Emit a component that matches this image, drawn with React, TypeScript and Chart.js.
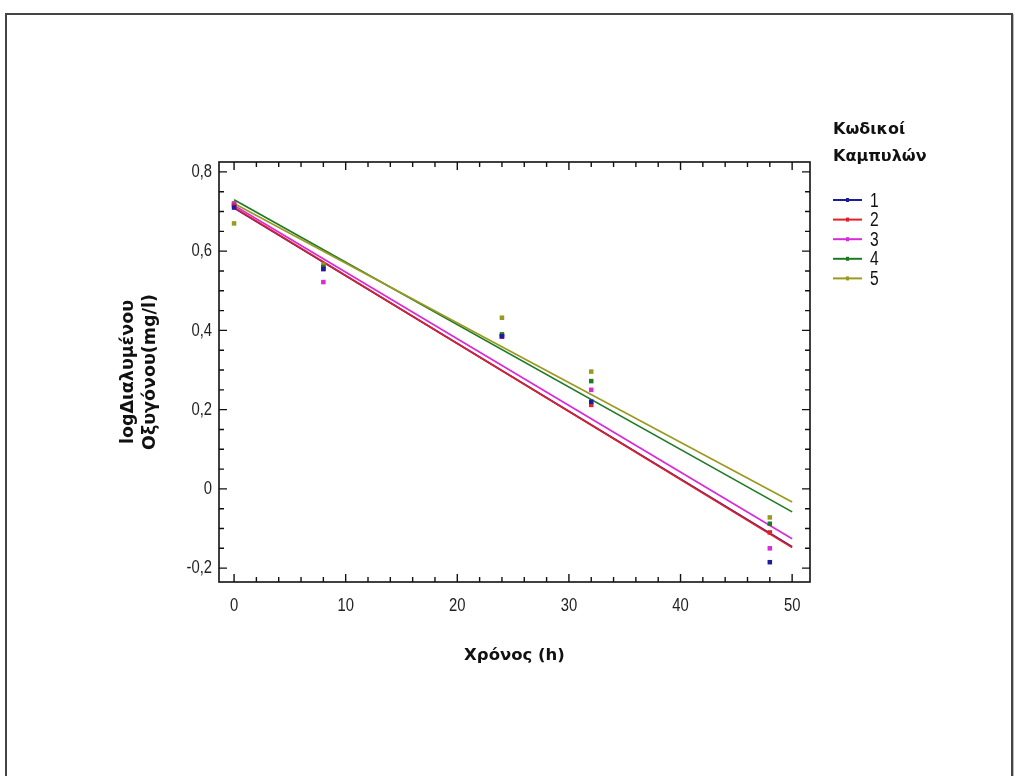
import React, { useEffect, useRef } from "react";
import { Chart, registerables } from "chart.js";

Chart.register(...registerables);

// Sampling times (hours) and measured log dissolved oxygen per curve code
const timesHours = [0, 8, 24, 32, 48];
const curve1 = [0.71, 0.555, 0.385, 0.22, -0.185];
const curve2 = [0.715, 0.555, 0.385, 0.212, -0.11];
const curve3 = [0.72, 0.522, 0.385, 0.25, -0.15];
const curve4 = [0.72, 0.56, 0.39, 0.272, -0.088];
const curve5 = [0.67, 0.566, 0.432, 0.296, -0.072];

// Fitted regression lines, evaluated at the ends of the fitted range
const fitHours = [0, 50];
const fit1 = [0.709, -0.146];
const fit2 = [0.71, -0.148];
const fit3 = [0.715, -0.126];
const fit4 = [0.73, -0.058];
const fit5 = [0.72, -0.033];

const curveCodes = ["1", "2", "3", "4", "5"];
const curveColors = ["#1c1c9c", "#e0202a", "#d82ad8", "#1f7a25", "#9a9a22"];
const measured = [curve1, curve2, curve3, curve4, curve5];
const fitted = [fit1, fit2, fit3, fit4, fit5];

const yTickValues = [-0.2, 0, 0.2, 0.4, 0.6, 0.8];
const xTickValues = [0, 10, 20, 30, 40, 50];

const legendTitle = ["Κωδικοί", "Καμπυλών"];
const xTitle = "Χρόνος (h)";
const yTitle = ["logΔιαλυμένου", "Οξυγόνου(mg/l)"];

const plain = "'Liberation Sans', Arial, sans-serif";
const heavy = "'DejaVu Sans', Verdana, sans-serif";
const squeeze = 0.78;

const fmt = (v: number) => {
  const r = Math.round(v * 10) / 10;
  if (r === 0) return "0";
  return String(r).replace(".", ",");
};

// Condensed text: squeezed horizontally around its anchor
function narrowText(ctx: CanvasRenderingContext2D, text: string, x: number, y: number, align: "left" | "center" | "right") {
  ctx.save();
  ctx.translate(x, y);
  ctx.scale(squeeze, 1);
  ctx.textAlign = align;
  ctx.fillText(text, 0, 0);
  ctx.restore();
}

// Frame around the plot, inward tick marks, tick labels and the curve legend
const framePlugin = {
  id: "frameAndLegend",
  afterDraw(chart: any) {
    const { ctx, chartArea: a, scales } = chart;
    const xs = scales.x;
    const ys = scales.y;
    ctx.save();
    ctx.strokeStyle = "#111";
    ctx.lineWidth = 1.6;
    ctx.strokeRect(a.left, a.top, a.right - a.left, a.bottom - a.top);

    ctx.lineWidth = 1.4;
    ctx.beginPath();
    for (let k = 0; k <= 25; k++) {
      const v = k * 2;
      const px = xs.getPixelForValue(v);
      const len = v % 10 === 0 ? 8 : 5;
      ctx.moveTo(px, a.bottom);
      ctx.lineTo(px, a.bottom - len);
      ctx.moveTo(px, a.top);
      ctx.lineTo(px, a.top + len);
    }
    for (let k = -4; k <= 16; k++) {
      const v = k * 0.05;
      const py = ys.getPixelForValue(v);
      const len = k % 4 === 0 ? 8 : 5;
      ctx.moveTo(a.left, py);
      ctx.lineTo(a.left + len, py);
      ctx.moveTo(a.right, py);
      ctx.lineTo(a.right - len, py);
    }
    ctx.stroke();

    // tick labels
    ctx.fillStyle = "#222";
    ctx.font = `19px ${plain}`;
    ctx.textBaseline = "middle";
    xTickValues.forEach((v) => narrowText(ctx, String(v), xs.getPixelForValue(v), a.bottom + 24, "center"));
    yTickValues.forEach((v) => narrowText(ctx, fmt(v), a.left - 7, ys.getPixelForValue(v), "right"));

    // legend
    const lx = a.right + 23;
    ctx.fillStyle = "#111";
    ctx.font = `bold 16px ${heavy}`;
    ctx.textAlign = "left";
    ctx.fillText(legendTitle[0], lx, a.top - 32);
    ctx.fillText(legendTitle[1], lx, a.top - 5);
    curveCodes.forEach((code, i) => {
      const y = a.top + 38 + i * 19.6;
      ctx.strokeStyle = curveColors[i];
      ctx.lineWidth = 2;
      ctx.beginPath();
      ctx.moveTo(lx, y);
      ctx.lineTo(lx + 29, y);
      ctx.stroke();
      ctx.fillStyle = curveColors[i];
      ctx.fillRect(lx + 13, y - 2, 3, 4);
      ctx.fillStyle = "#111";
      ctx.font = `20px ${plain}`;
      narrowText(ctx, code, lx + 37, y + 1, "left");
    });
    ctx.restore();
  },
};

export default function App() {
  const ref = useRef<HTMLCanvasElement | null>(null);

  useEffect(() => {
    if (!ref.current) return;
    const datasets: any[] = [];
    measured.forEach((vals, i) => {
      datasets.push({
        type: "scatter",
        label: `Δείγματα ${curveCodes[i]}`,
        data: timesHours.map((t, j) => ({ x: t, y: vals[j] })),
        backgroundColor: curveColors[i],
        borderColor: curveColors[i],
        pointStyle: "rect",
        pointRadius: 3.2,
        borderWidth: 0,
        order: 1,
      });
    });
    fitted.forEach((vals, i) => {
      datasets.push({
        type: "line",
        label: curveCodes[i],
        data: fitHours.map((t, j) => ({ x: t, y: vals[j] })),
        borderColor: curveColors[i],
        borderWidth: 1.7,
        pointRadius: 0,
        fill: false,
        order: i === 0 ? 10 : 5 - i,
      });
    });

    const chart = new Chart(ref.current, {
      type: "scatter",
      data: { datasets },
      plugins: [framePlugin],
      options: {
        responsive: false,
        animation: false,
        events: [],
        layout: { padding: { left: 112, right: 214, top: 162, bottom: 99 } },
        plugins: { legend: { display: false }, tooltip: { enabled: false } },
        scales: {
          x: {
            type: "linear",
            min: -1.35,
            max: 51.6,
            afterBuildTicks: (s: any) => {
              s.ticks = xTickValues.map((v) => ({ value: v }));
            },
            afterFit: (s: any) => {
              s.height = 95;
            },
            grid: { display: false, drawTicks: false },
            border: { display: false },
            ticks: { display: false },
            title: {
              display: true,
              text: xTitle,
              color: "#111",
              font: { family: heavy, size: 16.5, weight: "bold" },
              padding: { top: 0, bottom: 11 },
            },
          },
          y: {
            type: "linear",
            min: -0.235,
            max: 0.825,
            afterBuildTicks: (s: any) => {
              s.ticks = yTickValues.map((v) => ({ value: v }));
            },
            afterFit: (s: any) => {
              s.width = 107;
            },
            grid: { display: false, drawTicks: false },
            border: { display: false },
            ticks: { display: false },
            title: {
              display: true,
              text: yTitle,
              color: "#111",
              font: { family: heavy, size: 17.5, weight: "bold", lineHeight: 1.26 },
              padding: { top: 5, bottom: 0 },
            },
          },
        },
      },
    });
    return () => chart.destroy();
  }, []);

  return (
    <div style={{ position: "fixed", left: 0, top: 0, width: 1024, height: 776, background: "#fff", overflow: "hidden" }}>
      <div
        style={{
          position: "absolute",
          left: 5,
          top: 13,
          width: 1004,
          height: 800,
          border: "2px solid #444",
          boxShadow: "1px 1px 0 #bbb",
        }}
      />
      <canvas ref={ref} width={1024} height={776} style={{ position: "absolute", left: 0, top: 0, width: 1024, height: 776 }} />
    </div>
  );
}
